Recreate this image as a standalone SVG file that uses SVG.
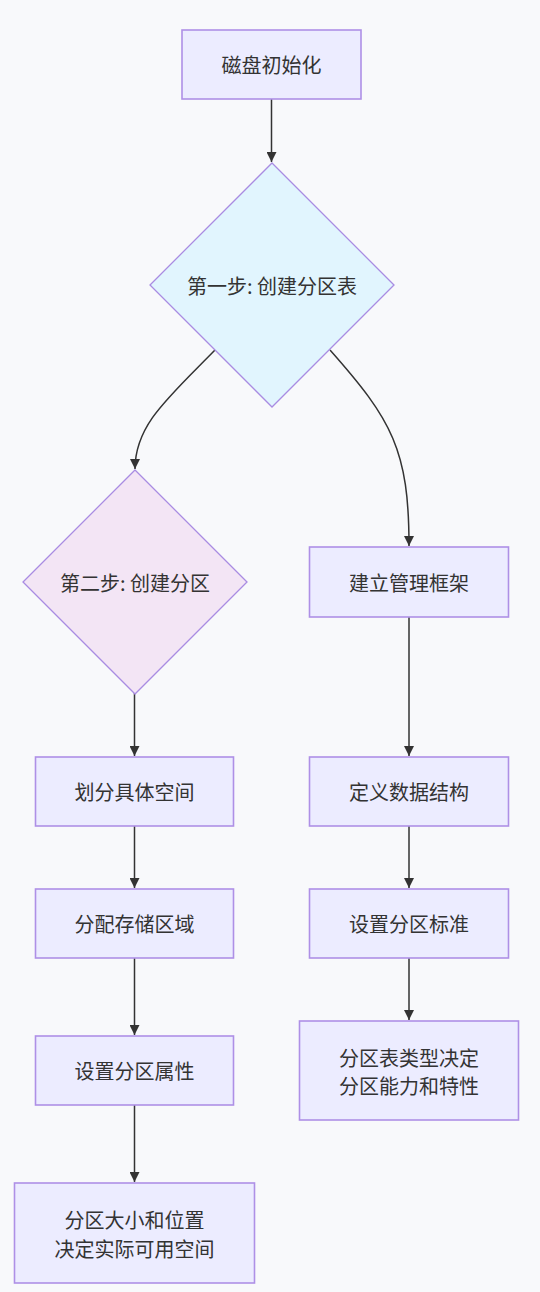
<svg xmlns="http://www.w3.org/2000/svg" width="540" height="1292" viewBox="0 0 540 1292">
<defs>
<style>
.box{fill:#ECECFF;stroke:#AE90E6;stroke-width:1.6}
.d1{fill:#E1F5FE;stroke:#A98CE2;stroke-width:1.3}
.d2{fill:#F3E5F5;stroke:#A98CE2;stroke-width:1.3}
.t{font-family:"Noto Sans CJK SC","Liberation Sans",sans-serif;font-size:20px;fill:#333333;text-anchor:middle;dominant-baseline:central}
.e{fill:none;stroke:#333333;stroke-width:1.5}
</style>
<marker id="ah" viewBox="0 0 10 10" refX="10" refY="5" markerWidth="10" markerHeight="10" markerUnits="userSpaceOnUse" orient="auto">
<path d="M0,0 L10,5 L0,10 z" fill="#333333"/>
</marker>
</defs>
<rect width="540" height="1292" fill="#F8F9FB"/>
<g id="connectors">
<path class="e" d="M271.5,99 L271.5,162" marker-end="url(#ah)"/>
<path class="e" d="M215,350 C168,398 135,425 135,469" marker-end="url(#ah)"/>
<path class="e" d="M330,350 C392,420 409,450 409,546" marker-end="url(#ah)"/>
<path class="e" d="M134.5,693 L134.5,756" marker-end="url(#ah)"/>
<path class="e" d="M134.5,826 L134.5,888" marker-end="url(#ah)"/>
<path class="e" d="M134.5,958 L134.5,1035" marker-end="url(#ah)"/>
<path class="e" d="M134.5,1105 L134.5,1182" marker-end="url(#ah)"/>
<path class="e" d="M409,617 L409,756" marker-end="url(#ah)"/>
<path class="e" d="M409,826 L409,888" marker-end="url(#ah)"/>
<path class="e" d="M409,958 L409,1020" marker-end="url(#ah)"/>
</g>
<g id="n_init">
<rect class="box" x="182" y="30" width="179" height="69"/>
<text class="t" x="271.5" y="64.5">磁盘初始化</text>
</g>
<g id="n_step1">
<polygon class="d1" points="272,163 394,285 272,407 150,285"/>
<text class="t" x="272" y="285">第一步: 创建分区表</text>
</g>
<g id="n_step2">
<polygon class="d2" points="135,470 247,582 135,694 23,582"/>
<text class="t" x="135" y="582">第二步: 创建分区</text>
</g>
<g id="n_frame">
<rect class="box" x="309.5" y="547" width="199" height="70"/>
<text class="t" x="409" y="582">建立管理框架</text>
</g>
<g id="n_divide">
<rect class="box" x="35.5" y="757" width="198" height="69"/>
<text class="t" x="134.5" y="791.5">划分具体空间</text>
</g>
<g id="n_define">
<rect class="box" x="309.5" y="757" width="199" height="69"/>
<text class="t" x="409" y="791.5">定义数据结构</text>
</g>
<g id="n_alloc">
<rect class="box" x="35.5" y="889" width="198" height="69"/>
<text class="t" x="134.5" y="923.5">分配存储区域</text>
</g>
<g id="n_std">
<rect class="box" x="309.5" y="889" width="199" height="69"/>
<text class="t" x="409" y="923.5">设置分区标准</text>
</g>
<g id="n_attr">
<rect class="box" x="35.5" y="1036" width="198" height="69"/>
<text class="t" x="134.5" y="1070.5">设置分区属性</text>
</g>
<g id="n_type">
<rect class="box" x="299.5" y="1021" width="219" height="99"/>
<text class="t" x="409" y="1057">分区表类型决定</text>
<text class="t" x="409" y="1085">分区能力和特性</text>
</g>
<g id="n_size">
<rect class="box" x="14.5" y="1183" width="240" height="100"/>
<text class="t" x="134.5" y="1219">分区大小和位置</text>
<text class="t" x="134.5" y="1248">决定实际可用空间</text>
</g>
</svg>
